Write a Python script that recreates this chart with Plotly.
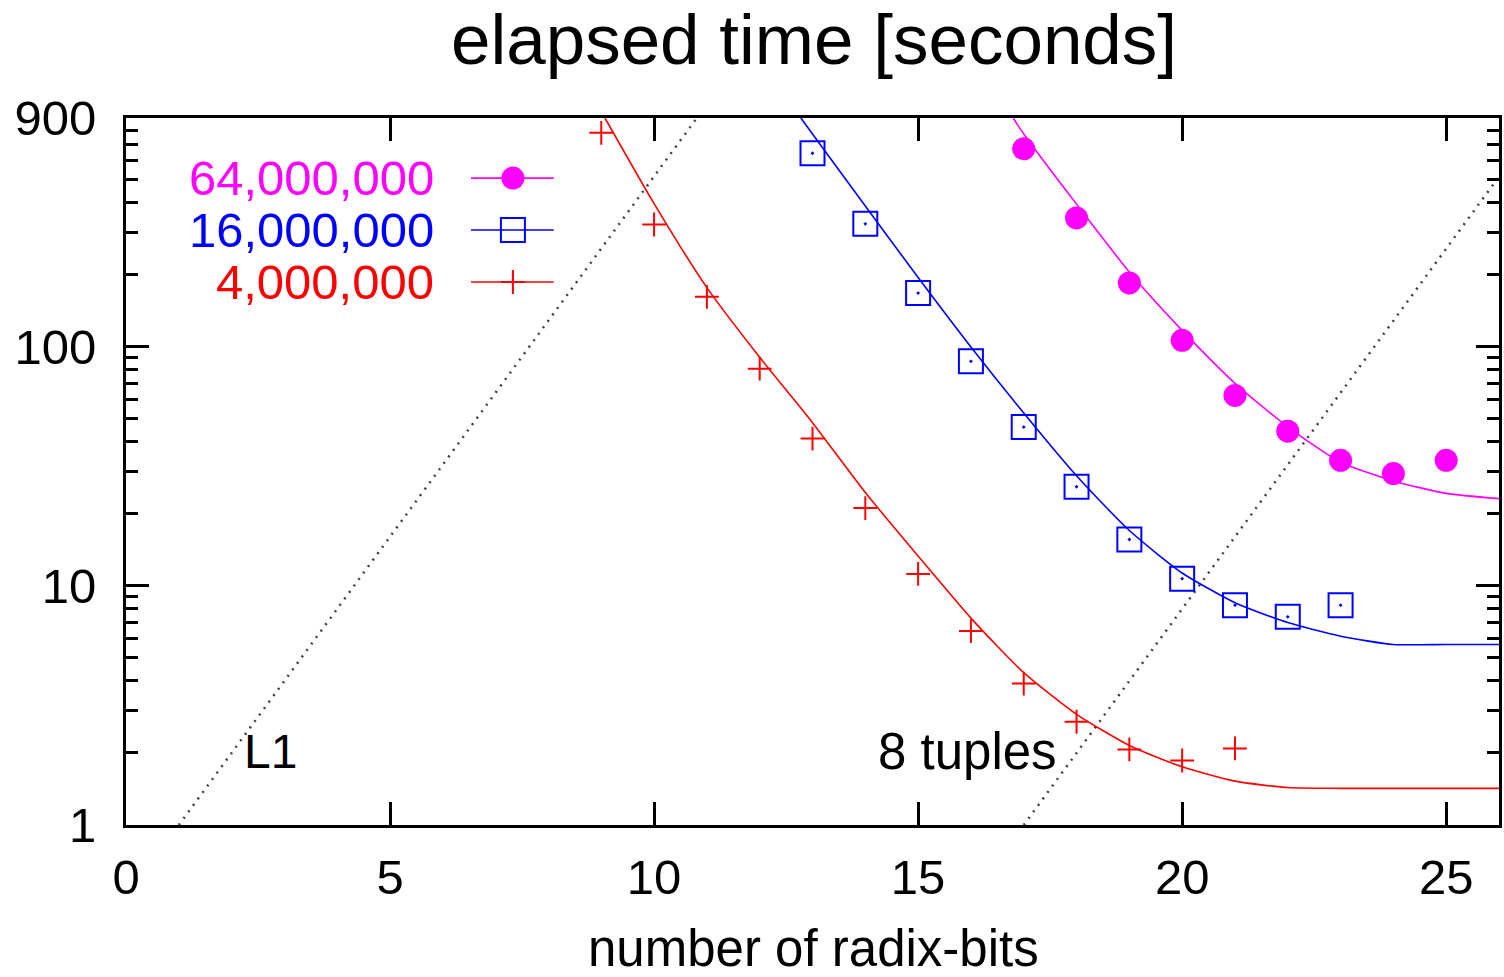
import math
import plotly.graph_objects as go

# ---------------- data ----------------
x_64m = [17, 18, 19, 20, 21, 22, 23, 24, 25]
t_64m = [669, 344, 184, 106, 62.4, 44.2, 33.4, 29.4, 33.4]

x_16m = [13, 14, 15, 16, 17, 18, 19, 20, 21, 22, 23]
t_16m = [641, 325, 167, 86.6, 46.0, 25.9, 15.6, 10.7, 8.29, 7.41, 8.29]

x_4m = [9, 10, 11, 12, 13, 14, 15, 16, 17, 18, 19, 20, 21]
t_4m = [780, 323, 161, 80.7, 41.2, 21.1, 11.2, 6.46, 3.90, 2.70, 2.07, 1.86, 2.09]

# model curves
fit_x_64m = [16.8, 17, 18, 19, 20, 21, 22, 23, 24, 25, 26]
fit_t_64m = [900, 772, 393, 204.5, 116.6, 70.1, 46.1, 32.8, 27.4, 24.3, 23.1]

fit_x_16m = [12.78, 13, 14, 15, 16, 17, 18, 19, 20, 21, 22, 23, 24, 25, 26]
fit_t_16m = [900, 771, 386, 194, 99.4, 52.7, 28.8, 17.0, 11.3, 8.49, 7.01, 6.15, 5.68, 5.68, 5.68]

fit_x_4m = [9.07, 10, 11, 12, 13, 14, 15, 16, 17, 18, 19, 20, 21, 22, 23, 24, 25, 26]
fit_t_4m = [900, 395, 176, 90, 48, 24.5, 13.3, 7.32, 4.33, 2.90, 2.15, 1.75, 1.525, 1.434, 1.423, 1.423, 1.423, 1.423]

# dotted guide lines (L1 and 8 tuples)
l1_x = [1, 10.81]
l1_t = [1, 900]
tuples_x = [17, 26]
tuples_t = [1, 512]

series_names = ["64,000,000", "16,000,000", "4,000,000"]
x_ticks = [0, 5, 10, 15, 20, 25]
y_ticks = [1, 10, 100, 900]
y_minor = [2, 3, 4, 5, 6, 7, 8, 9, 20, 30, 40, 50, 60, 70, 80, 90,
           200, 300, 400, 500, 600, 700, 800]

MAG = "#ff00ff"
BLU = "#0000ff"
RED = "#ff0000"
FONT = "Liberation Sans, Arial, Helvetica, sans-serif"

fig = go.Figure()

# guide lines
for gx, gy in [(l1_x, l1_t), (tuples_x, tuples_t)]:
    fig.add_trace(go.Scatter(x=gx, y=gy, mode="lines",
                             line=dict(color="#404040", width=2.5, dash="2px,6px"),
                             showlegend=False, hoverinfo="skip"))

# fitted curves
for fx, fy, c in [(fit_x_4m, fit_t_4m, RED), (fit_x_16m, fit_t_16m, BLU), (fit_x_64m, fit_t_64m, MAG)]:
    fig.add_trace(go.Scatter(x=fx, y=fy, mode="lines",
                             line=dict(color=c, width=1.6, shape="spline", smoothing=0.6),
                             showlegend=False, hoverinfo="skip"))

# measured points
fig.add_trace(go.Scatter(x=x_4m, y=t_4m, mode="markers", name=series_names[2],
                         marker=dict(symbol="cross-thin", size=17, color=RED,
                                     line=dict(color=RED, width=2)),
                         showlegend=False))
fig.add_trace(go.Scatter(x=x_16m, y=t_16m, mode="markers", name=series_names[1],
                         marker=dict(symbol="square-open-dot", size=24, color=BLU,
                                     line=dict(color=BLU, width=2)),
                         showlegend=False))
fig.add_trace(go.Scatter(x=x_64m, y=t_64m, mode="markers", name=series_names[0],
                         marker=dict(symbol="circle", size=23, color=MAG,
                                     line=dict(width=0)),
                         showlegend=False))

# ---------- hand-made key (drawn on an overlay 0..1 axis) ----------
key_y = [0.915, 0.8416, 0.768]
key_line_x = [0.2513, 0.3115]
key_mark_x = [0.2818]
key_markers = [
    dict(symbol="circle", size=23, color=MAG, line=dict(width=0)),
    dict(symbol="square-open", size=24, color=BLU, line=dict(color=BLU, width=2)),
    dict(symbol="cross-thin", size=17, color=RED, line=dict(color=RED, width=2)),
]
for ky, col, mk in zip(key_y, [MAG, BLU, RED], key_markers):
    fig.add_trace(go.Scatter(x=key_line_x, y=[ky, ky], mode="lines", xaxis="x2", yaxis="y2",
                             line=dict(color=col, width=1.6), showlegend=False, hoverinfo="skip"))
    fig.add_trace(go.Scatter(x=key_mark_x, y=[ky], mode="markers", xaxis="x2", yaxis="y2",
                             marker=mk, showlegend=False, hoverinfo="skip"))

annotations = []
for name, ky, col in zip(series_names, key_y, [MAG, BLU, RED]):
    annotations.append(dict(text=name, xref="paper", yref="paper", x=0.226, y=ky,
                            xanchor="right", yanchor="middle", showarrow=False,
                            font=dict(family=FONT, size=49, color=col)))

annotations.append(dict(text="L1", x=2.2, y=math.log10(2.02), xref="x", yref="y",
                        xanchor="left", yanchor="middle", showarrow=False,
                        font=dict(family=FONT, size=48, color="black")))
annotations.append(dict(text="8 tuples", x=14.2, y=math.log10(2.02), xref="x", yref="y",
                        xanchor="left", yanchor="middle", showarrow=False,
                        font=dict(family=FONT, size=51, color="black")))
annotations.append(dict(text="number of radix-bits", xref="paper", yref="paper",
                        x=0.501, y=-0.175, xanchor="center", yanchor="middle", showarrow=False,
                        font=dict(family=FONT, size=51, color="black")))

axis_common = dict(showline=True, linecolor="black", linewidth=3, mirror="ticks",
                   ticks="inside", tickcolor="black", tickwidth=3, ticklen=23,
                   showgrid=False, zeroline=False,
                   tickfont=dict(family=FONT, size=49, color="black"))

fig.update_layout(
    width=1504, height=977,
    margin=dict(l=126, r=2, t=118, b=152),
    paper_bgcolor="white", plot_bgcolor="white",
    title=dict(text="elapsed time [seconds]", x=814 / 1504, xanchor="center",
               y=1 - 39 / 977, yanchor="middle", yref="container",
               font=dict(family=FONT, size=71, color="black")),
    xaxis=dict(range=[0, 26], tickvals=x_ticks, ticklabelstandoff=7, **axis_common),
    yaxis=dict(type="log", range=[0, math.log10(900)], tickvals=y_ticks,
               ticktext=[str(v) for v in y_ticks], ticklabelstandoff=17,
               minor=dict(tickvals=y_minor, ticks="inside", ticklen=12,
                          tickwidth=3, tickcolor="black"),
               **axis_common),
    xaxis2=dict(overlaying="x", range=[0, 1], visible=False, anchor="y2"),
    yaxis2=dict(overlaying="y", range=[0, 1], visible=False, anchor="x2"),
    annotations=annotations,
    showlegend=False,
)

fig.write_html("out.html")
